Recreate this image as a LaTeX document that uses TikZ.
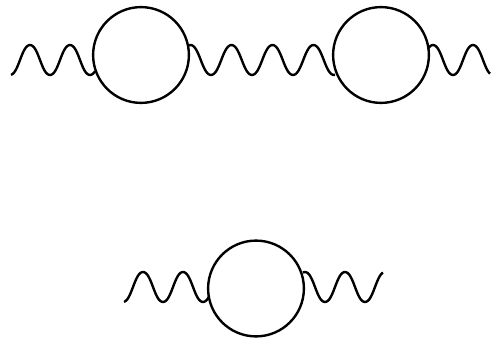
\documentclass[tikz,border=0pt]{standalone}
\tikzset{
  loopcirc/.style={circle,draw=black,line width=2.4pt,minimum size=95.8pt,inner sep=0pt,outer sep=0pt},
  wavy/.style={draw=black,line width=2.4pt,samples=140,smooth,line join=round,variable=\t}
}
% #1 from x, #2 to x, #3 peak x, #4 period, #5 mid height
\newcommand{\wavepath}[5]{\draw[wavy] plot[domain=#1:#2] (\t,{#5+15.4*(cos((\t-#3)/#4*360)-0.03*cos((\t-#3)/#4*1080))});}
\begin{document}
\begin{tikzpicture}[x=1pt,y=1pt]
\useasboundingbox (0,0) rectangle (494,340);
\node[loopcirc] (a) at (141,285) {};
\node[loopcirc] (b) at (381,285) {};
\node[loopcirc] (c) at (256,51.5) {};
\wavepath{11}{95}{30}{40}{280}
\wavepath{188}{335}{190.5}{41}{280}
\wavepath{428}{490}{433}{40}{280}
\wavepath{124}{209}{143}{40}{53}
\wavepath{303}{383}{305}{40}{53}
\end{tikzpicture}
\end{document}
